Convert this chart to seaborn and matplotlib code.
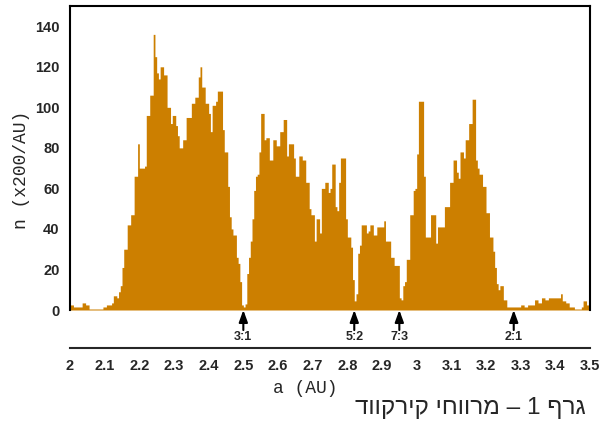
import matplotlib
matplotlib.use("Agg")
import matplotlib.pyplot as plt
import numpy as np
import seaborn as sns

# asteroid count per 0.005 AU bin, a = 2.0 ... 3.5 AU (one row = 0.1 AU)
a_start = 2.0
a_stop = 3.5
n_counts = [
    2.5, 2.5, 1.5, 1.5, 1.5, 1.5, 1.5, 3.5, 3.5, 2.5, 2.5, 0.5, 0.5, 0.5, 0.5, 0.5, 0.5, 0.5, 0.5, 1.5,
    1.5, 2.5, 2.5, 2.5, 3.5, 7, 7, 6, 9, 12, 21, 30, 30, 42, 42, 47, 47, 66, 66, 82,
    70, 70, 70, 71, 96, 96, 106, 106, 136, 125, 117, 114, 120, 120, 116, 116, 100, 100, 92, 96,
    96, 91, 86, 80, 80, 84, 84, 95, 95, 95, 102, 102, 105, 105, 115, 120, 110, 110, 102, 102,
    97, 88, 101, 101, 103, 108, 108, 108, 89, 78, 78, 61, 46, 40, 37, 37, 26, 23, 14, 2.5,
    1.5, 3, 18, 26, 34, 45, 59, 66, 67, 78, 97, 97, 84, 85, 85, 74, 74, 84, 84, 81,
    81, 88, 88, 94, 94, 76, 82, 82, 82, 75, 66, 66, 76, 76, 74, 74, 63, 63, 50, 47,
    47, 34, 45, 45, 38, 60, 60, 63, 63, 58, 60, 72, 72, 51, 49, 63, 75, 75, 75, 45,
    36, 36, 31, 15, 4.5, 8, 28, 32, 42, 42, 42, 38, 39, 42, 42, 37, 37, 41, 41, 41,
    41, 44, 34, 34, 34, 26, 26, 22, 22, 22, 6, 5, 12, 14, 25, 25, 47, 47, 59, 60,
    77, 103, 103, 103, 66, 36, 36, 36, 47, 47, 47, 33, 41, 41, 41, 41, 51, 51, 51, 63,
    63, 74, 74, 68, 65, 78, 78, 75, 84, 84, 92, 92, 104, 104, 74, 70, 67, 67, 61, 61,
    48, 48, 36, 36, 29, 21, 13, 10, 12, 12, 5, 5, 1.5, 1.5, 1.5, 1.5, 1.5, 1.5, 1.5, 1.5,
    2.5, 2.5, 1.5, 1.5, 2.5, 2.5, 2.5, 2.5, 5, 5, 3.5, 3.5, 6, 6, 5, 5, 6, 6, 6, 6,
    6, 6, 6, 8, 4.5, 4.5, 3.5, 3.5, 1.5, 1.5, 1.5, 0.5, 0.5, 0.5, 0.5, 1.5, 4.5, 4.5, 2.5, 2.5,
]

# Kirkwood gaps (resonances with Jupiter)
resonance_labels = ["3:1", "5:2", "7:3", "2:1"]
resonance_a = [2.50, 2.82, 2.95, 3.28]

y_ticks = [0, 20, 40, 60, 80, 100, 120, 140]
x_ticks = [2.0, 2.1, 2.2, 2.3, 2.4, 2.5, 2.6, 2.7, 2.8, 2.9, 3.0, 3.1, 3.2, 3.3, 3.4, 3.5]
x_tick_labels = ["2", "2.1", "2.2", "2.3", "2.4", "2.5", "2.6", "2.7", "2.8", "2.9",
                 "3", "3.1", "3.2", "3.3", "3.4", "3.5"]

# caption, written in visual (left-to-right) order of the original image
caption = "גרף 1 – מרווחי קירקווד"

sns.set_style("white")
plt.rcParams["font.family"] = ["Liberation Sans", "DejaVu Sans"]

bar_color = "#cc7f00"
n_bins = len(n_counts)
width = (a_stop - a_start) / n_bins
centers = a_start + width * (np.arange(n_bins) + 0.5)

fig = plt.figure(figsize=(6.0, 4.23), dpi=100)
ax = fig.add_axes([70 / 600, 113 / 423, 520 / 600, 304 / 423])

sns.histplot(x=centers, weights=n_counts, bins=n_bins, binrange=(a_start, a_stop),
             element="step", fill=True, color=bar_color, alpha=1, linewidth=0, ax=ax)

ax.set_xlim(a_start, a_stop)
ax.set_ylim(0, 150)
ax.set_xlabel("")
ax.set_ylabel("")
ax.set_xticks([])
ax.set_yticks(y_ticks)
ax.set_yticks(np.arange(0, 151, 5), minor=True)
ax.tick_params(axis="y", which="major", length=6, width=1.5, pad=1.5,
               labelsize=10.5)
ax.tick_params(axis="y", which="minor", length=3.5, width=1.5)
for lab in ax.get_yticklabels():
    lab.set_fontweight("bold")
for side in ["left", "right", "top"]:
    ax.spines[side].set_linewidth(1.5)
    ax.spines[side].set_color("black")
ax.spines["bottom"].set_visible(False)

# resonance arrows under the histogram
for lab, a in zip(resonance_labels, resonance_a):
    ax.annotate("", xy=(a, 0), xytext=(a, -9.9), annotation_clip=False,
                arrowprops=dict(arrowstyle="-|>,head_length=0.55,head_width=0.2",
                                color="black", lw=1.5, mutation_scale=13,
                                shrinkA=0, shrinkB=0))
    ax.text(a, -13.4, lab, ha="center", va="center", fontsize=9,
            fontweight="bold", clip_on=False)

# separate a-axis below the arrows
ax2 = fig.add_axes([70 / 600, (423 - 347.7) / 423, 520 / 600, 0.001])
ax2.set_facecolor("none")
ax2.set_xlim(a_start, a_stop)
ax2.set_yticks([])
for side in ["left", "right", "top"]:
    ax2.spines[side].set_visible(False)
ax2.spines["bottom"].set_linewidth(1.5)
ax2.set_xticks(x_ticks)
ax2.set_xticklabels(x_tick_labels, fontweight="bold")
ax2.set_xticks(np.arange(2.05, 3.5, 0.1), minor=True)
ax2.tick_params(axis="x", which="both", length=5, width=1.5, pad=3, labelsize=10.5)

mono = ["Liberation Mono", "DejaVu Sans Mono"]
fig.text(305 / 600, 1 - 388 / 423, "a (AU)", ha="center", va="center",
         fontsize=13, family=mono)
fig.text(22 / 600, 1 - 170 / 423, "n (x200/AU)", ha="center", va="center",
         rotation=90, fontsize=13, family=mono)
# matplotlib lays the Hebrew run out right-to-left, so feed it reversed
fig.text(470 / 600, 1 - 408 / 423, caption[::-1], ha="center",
         va="center", fontsize=17.5, family=["Liberation Sans", "DejaVu Sans"])

fig.savefig("out.png", dpi=100)
